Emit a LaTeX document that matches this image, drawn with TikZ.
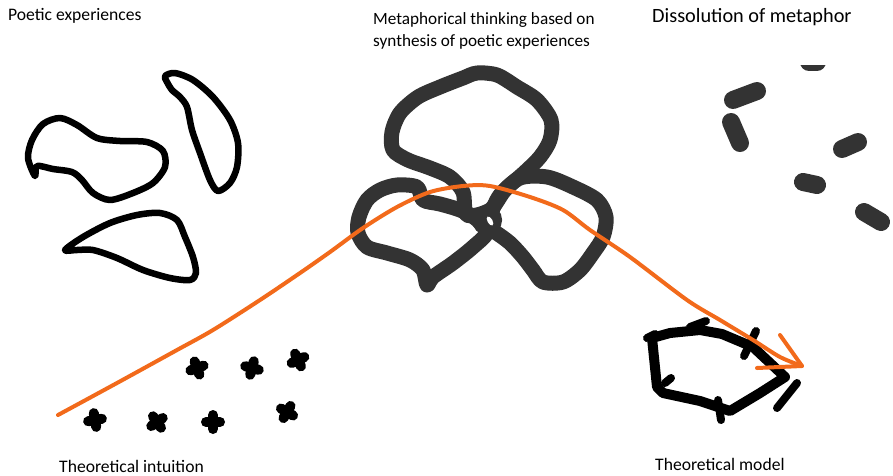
\documentclass[tikz,border=0pt]{standalone}
\usepackage{fontspec}
\setmainfont{Carlito}
\usetikzlibrary{calc}
\definecolor{ink}{HTML}{333333}
\definecolor{route}{HTML}{F26A1B}

\begin{document}
\begin{tikzpicture}[x=1pt,y=-1pt]
		\tikzset{>=latex,
			poetic/.style={line width=6.5pt,line join=round,line cap=round},
			petal/.style={ink,line width=15pt,line join=round,line cap=round},
			crumb/.style={ink,line width=18pt,line cap=round},
			seed/.style={line width=10pt,line cap=round},
			frame/.style={line width=10pt,line join=round,line cap=round},
			path/.style={route,line width=4pt,line cap=round,line join=round},
			caption/.style={anchor=west,inner sep=0pt,align=left,font=\fontsize{17.6}{22}\selectfont}}
		\useasboundingbox (0,0) rectangle (893,475);
		
		% captions
		\node[caption] (poetic) at (8,16) {Poetic experiences};
		\node[caption,font=\fontsize{17.2}{22}\selectfont] (metaphor) at (373,31) {Metaphorical thinking based on\\synthesis of poetic experiences};
		\node[caption,font=\fontsize{20.3}{24}\selectfont] (dissolution) at (652,17) {Dissolution of metaphor};
		\node[caption] (intuition) at (59,466) {Theoretical intuition};
		\node[caption] (model) at (655,464) {Theoretical model};
		
		% poetic experiences
		\draw[poetic] plot[smooth cycle] coordinates {(35,176) (28,158) (32,140) (43,124) (60,118) (77,125) (97,138) (120,141) (147,142) (163,151) (165,167) (153,183) (133,193) (110,200) (93,193) (82,180) (72,172) (53,169) (37,166)};
		\draw[poetic] plot[smooth cycle] coordinates {(165,76) (175,73) (193,80) (213,97) (230,120) (238,143) (237,167) (230,183) (218,191) (210,180) (200,153) (192,130) (187,107) (180,97) (172,90) (167,82)};
		\draw[poetic] plot[smooth cycle] coordinates {(65,250) (83,237) (110,223) (137,215) (160,213) (177,220) (185,237) (193,257) (196,273) (190,280) (170,278) (143,270) (117,258) (93,250) (77,250)};
		
		% metaphorical thinking
		\draw[petal] plot[smooth cycle] coordinates {(467,215) (463,192) (450,177) (430,168) (408,160) (393,150) (392,132) (400,113) (418,97) (440,87) (463,78) (477,73) (497,75) (517,87) (537,100) (551,120) (550,140) (540,157) (525,172) (505,190) (490,210)};
		\draw[petal] plot[smooth cycle] coordinates {(487,232) (473,247) (453,263) (433,277) (427,285) (423,270) (410,260) (387,253) (367,247) (358,233) (359,217) (367,200) (380,190) (397,185) (417,187) (423,200) (440,204) (460,210) (475,218)};
		\draw[petal] plot[smooth cycle] coordinates {(490,215) (500,195) (520,178) (547,177) (573,187) (597,200) (606,217) (603,237) (593,253) (580,270) (563,282) (543,282) (533,270) (523,257) (510,243) (495,232) (483,225)};
		\draw[ink,line width=12pt] (487,220) circle (9);
		\fill[white,rotate around={30:(490,221)}] (490,221) ellipse (2.5 and 5);
		
		% dissolution
		\begin{scope}
			\clip (780,65) rectangle (840,90);
			\draw[crumb] (809,62) -- (817,62);
		\end{scope}
		\draw[crumb] (733,100) -- (757,91);
		\draw[crumb] (731,122) -- (740,143);
		\draw[crumb] (842,149) -- (858,142);
		\draw[crumb] (803,182) -- (817,185);
		\draw[crumb] (864,212) -- (881,222);
		
		% theoretical intuition
		\foreach \x/\y/\a in {197/368/20,252/368/-15,298/360/25,95/420/10,157/422/35,213/422/0,287/412/-30}
			\draw[seed,rotate around={\a:(\x,\y)}] (\x-7,\y) -- (\x+7,\y) (\x,\y-7) -- (\x,\y+7);
		
		% theoretical model
		\draw[frame] (652,338) -- (670,333) -- (700,330) -- (722,334) -- (753,347) -- (785,377) -- (760,393) -- (730,411) -- (700,401) -- (663,393) -- (657,387) -- cycle;
		\draw[frame,line width=8pt] (690,327) -- (706,321);
		\draw[frame,line width=8pt] (756,331) -- (744,356);
		\draw[frame,line width=8pt] (797,383) -- (777,408);
		\draw[frame,line width=8pt] (718,400) -- (721,420);
		\draw[frame,line width=8pt] (647,338) -- (655,334);
		\draw[frame,line width=8pt] (665,383) -- (671,378);
		
		% path of thought
		\coordinate (start) at (58,415);
		\coordinate (tip) at (802,366);
		\coordinate (barbA) at (780,335);
		\coordinate (barbB) at (757,368);
		\draw[path] plot[smooth] coordinates {(start) (117,383) (177,350) (213,330) (260,300) (300,273) (330,252) (363,228) (397,207) (430,192) (463,186) (490,186) (530,197) (563,210) (590,230) (630,257) (687,300) (720,320) (753,340) (780,357) (tip)};
		\draw[path] (barbA) -- (tip) -- (barbB);
\end{tikzpicture}
\end{document}
